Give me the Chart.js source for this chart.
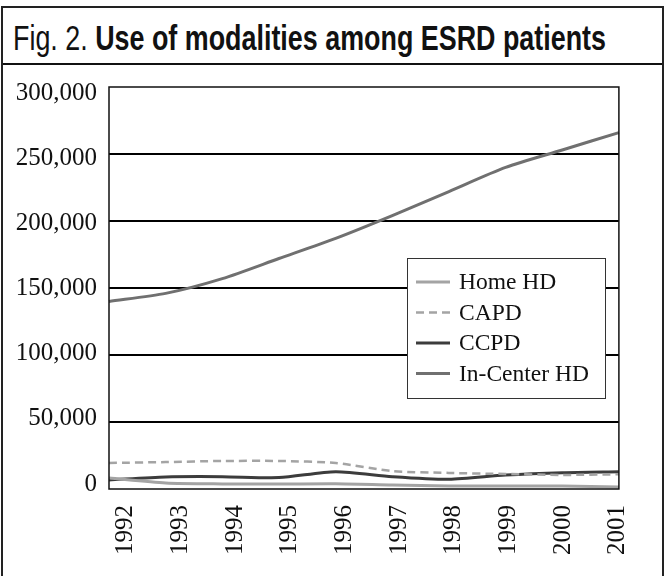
<!DOCTYPE html>
<html>
<head>
<meta charset="utf-8">
<script src="https://cdn.jsdelivr.net/npm/chart.js@4/dist/chart.umd.min.js"></script>
<style>
    html, body { margin: 0; padding: 0; background: #fff; }
    body { width: 664px; height: 576px; position: relative; overflow: hidden; }
    #frame {
        position: absolute; left: 1px; top: 6px; width: 659px; height: 575px;
        border: 2px solid #222; box-sizing: content-box;
    }
    #title {
        position: absolute; left: 0; top: 0; width: 100%; height: 55px;
        border-bottom: 2px solid #111;
    }
    #titleText {
        position: absolute; left: 10px; top: 0; line-height: 60px;
        font-family: "Liberation Sans", Arial, sans-serif;
        font-size: 35px; color: #111; white-space: nowrap;
        transform-origin: 0 50%;
    }
    #titleText b { font-weight: bold; }
    #wrap { position: absolute; left: 0; top: 0; width: 664px; height: 576px; }
</style>
</head>
<body>
<div id="frame"><div id="title"><span id="titleText">Fig. 2. <b>Use of modalities among ESRD patients</b></span></div></div>
<div id="wrap"><canvas id="chart" width="664" height="576"></canvas></div>
<script>
    // 데이터
    const years = ['1992', '1993', '1994', '1995', '1996', '1997', '1998', '1999', '2000', '2001'];
    const homeHD = [8200, 4500, 3800, 3700, 3900, 3000, 2300, 2200, 2200, 1500];
    const capd = [19400, 20100, 20900, 20900, 19400, 13400, 12000, 11200, 10500, 11000];
    const ccpd = [6700, 9000, 9200, 8500, 12900, 9200, 7200, 10400, 12200, 12900];
    const inCenterHD = [140000, 146000, 157000, 172000, 187000, 204000, 222000, 240000, 253000, 266000];
    const yTicks = [0, 50000, 100000, 150000, 200000, 250000, 300000];

    const serif = '"Liberation Serif", "Times New Roman", serif';

    // 제목 폭을 원본(약 593px)에 맞춰 가로로 압축
    const tt = document.getElementById('titleText');
    tt.style.transform = 'scaleX(' + (593 / tt.getBoundingClientRect().width) + ')';

    // 플롯 테두리 + 범례 상자
    const framePlugin = {
        id: 'framePlugin',
        afterDatasetsDraw(chart) {
            const { ctx, chartArea: a } = chart;
            ctx.save();
            ctx.strokeStyle = '#111';
            ctx.lineWidth = 1.5;
            ctx.strokeRect(a.left, a.top, a.right - a.left, a.bottom - a.top);

            // 범례
            const lx = a.left + 298, ly = a.top + 171, lw = 198, lh = 140;
            ctx.fillStyle = '#fff';
            ctx.fillRect(lx, ly, lw, lh);
            ctx.strokeStyle = '#333';
            ctx.lineWidth = 1;
            ctx.strokeRect(lx + 0.5, ly + 0.5, lw, lh);
            ctx.font = '23.5px ' + serif;
            ctx.textBaseline = 'middle';
            chart.data.datasets.forEach((ds, i) => {
                const y = ly + 24 + i * 30.5;
                ctx.beginPath();
                ctx.strokeStyle = ds.borderColor;
                ctx.lineWidth = ds.borderWidth;
                ctx.setLineDash(ds.borderDash || []);
                ctx.moveTo(lx + 9, y);
                ctx.lineTo(lx + 43, y);
                ctx.stroke();
                ctx.setLineDash([]);
                ctx.fillStyle = '#111';
                ctx.fillText(ds.label, lx + 52, y + 1);
            });
            ctx.restore();
        }
    };

    new Chart(document.getElementById('chart'), {
        type: 'line',
        data: {
            labels: years,
            datasets: [
                { label: 'Home HD', data: homeHD, borderColor: '#a4a4a4', borderWidth: 3 },
                { label: 'CAPD', data: capd, borderColor: '#a4a4a4', borderWidth: 2.5, borderDash: [8, 5] },
                { label: 'CCPD', data: ccpd, borderColor: '#3c3c3c', borderWidth: 3 },
                { label: 'In-Center HD', data: inCenterHD, borderColor: '#707070', borderWidth: 3 }
            ]
        },
        options: {
            responsive: false,
            animation: false,
            devicePixelRatio: 1,
            layout: { padding: { left: 0, top: 87, right: 33, bottom: 0 } },
            elements: {
                point: { radius: 0 },
                line: { tension: 0.25, fill: false }
            },
            plugins: { legend: { display: false }, tooltip: { enabled: false } },
            scales: {
                // 데이터용 x축 (눈금 글자는 xLab 축이 그림)
                x: { display: false, offset: false },
                // 원본처럼 연도 글자가 점보다 살짝 오른쪽에 놓이도록 범위를 약간 옮긴 보조 축
                xLab: {
                    type: 'linear', position: 'bottom',
                    min: -0.304, max: 9.018,
                    afterBuildTicks: (s) => { s.ticks = years.map((_, i) => ({ value: i })); },
                    grid: { display: false, drawTicks: false },
                    border: { display: false },
                    afterFit: (s) => { s.height = 87; },
                    ticks: {
                        color: '#111', font: { family: serif, size: 25 },
                        minRotation: 90, maxRotation: 90, padding: 16, autoSkip: false,
                        callback: (v) => years[v]
                    }
                },
                y: {
                    min: 0, max: 300000,
                    afterFit: (s) => { s.width = 0; },
                    afterBuildTicks: (s) => { s.ticks = yTicks.map(v => ({ value: v })); },
                    grid: {
                        drawTicks: false, color: '#000',
                        lineWidth: (c) => (c.tick && (c.tick.value === 0 || c.tick.value === 300000)) ? 0 : 2
                    },
                    border: { display: false },
                    ticks: { display: false }
                },
                // 원본의 y 눈금 글자 위치(격자선과 약간 어긋남)를 따라가는 보조 축
                yLab: {
                    type: 'linear', position: 'left',
                    min: -3836, max: 304604,
                    afterFit: (s) => { s.width = 109; },
                    afterBuildTicks: (s) => { s.ticks = yTicks.map(v => ({ value: v })); },
                    grid: { display: false, drawTicks: false },
                    border: { display: false },
                    ticks: {
                        color: '#111', padding: 12, font: { family: serif, size: 25 },
                        callback: (v) => v.toLocaleString('en-US')
                    }
                }
            }
        },
        plugins: [framePlugin]
    });
</script>
</body>
</html>
